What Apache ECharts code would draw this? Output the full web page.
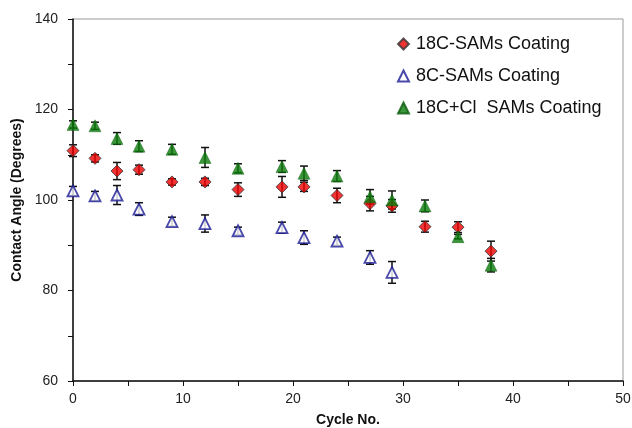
<!DOCTYPE html>
<html>
<head>
<meta charset="utf-8">
<script src="https://cdn.jsdelivr.net/npm/echarts@6/dist/echarts.min.js"></script>
<style>
  html, body { margin: 0; padding: 0; background: #fff; }
  #chart { width: 632px; height: 428px; }
</style>
</head>
<body>
<div id="chart"></div>
<script>
// cycles measured
var cycles18 = [0, 2, 4, 6, 9, 12, 15, 19, 21, 24, 27, 29, 32, 35, 38];
var cycles8 = [0, 2, 4, 6, 9, 12, 15, 19, 21, 24, 27, 29];

// contact angle (degrees) and error
var sam18 = [110.9, 109.2, 106.4, 106.7, 104.0, 104.0, 102.3, 102.9, 102.9, 101.0, 99.2, 98.7, 94.1, 94.0, 88.7];
var sam18Err = [1.3, 0.8, 1.9, 1.0, 0.7, 0.8, 1.5, 2.3, 1.0, 1.6, 1.6, 1.4, 1.2, 1.2, 2.2];
var sam8 = [102.0, 100.9, 101.1, 98.0, 95.2, 94.8, 93.2, 93.9, 91.7, 90.9, 87.3, 84.0];
var sam8Err = [1.0, 1.0, 2.1, 1.4, 1.0, 1.9, 0.8, 1.2, 1.5, 0.9, 1.5, 2.4];
var sam18Cl = [116.7, 116.4, 113.6, 111.9, 111.2, 109.4, 107.0, 107.4, 105.9, 105.3, 100.7, 100.0, 98.7, 91.9, 85.6];
var sam18ClErr = [0.8, 0.8, 1.3, 1.2, 1.1, 2.2, 1.0, 1.3, 1.6, 1.2, 1.6, 2.0, 1.3, 0.5, 1.5];

var names = ['18C-SAMs Coating', '8C-SAMs Coating', '18C+Cl  SAMs Coating'];

function pts(xs, ys) {
    var out = [];
    for (var i = 0; i < xs.length; i++) out.push([xs[i], ys[i]]);
    return out;
}

function errs(xs, ys, es) {
    var out = [];
    for (var i = 0; i < xs.length; i++) out.push([xs[i], ys[i] - es[i], ys[i] + es[i]]);
    return out;
}

function renderErr(params, api) {
    var lo = api.coord([api.value(0), api.value(1)]);
    var hi = api.coord([api.value(0), api.value(2)]);
    var w = 4;
    var st = { stroke: '#111', lineWidth: 1.5 };
    return {
        type: 'group',
        children: [
            { type: 'line', shape: { x1: lo[0], y1: lo[1], x2: hi[0], y2: hi[1] }, style: st },
            { type: 'line', shape: { x1: lo[0] - w, y1: lo[1], x2: lo[0] + w, y2: lo[1] }, style: st },
            { type: 'line', shape: { x1: hi[0] - w, y1: hi[1], x2: hi[0] + w, y2: hi[1] }, style: st }
        ]
    };
}

var font = '"Liberation Sans", Arial, sans-serif';
var myChart = echarts.init(document.getElementById('chart'));

var option = {
    animation: false,
    textStyle: { fontFamily: font },
    grid: {
        left: 73, right: 9, top: 19, bottom: 47,
        outerBoundsMode: 'none',
        show: true, borderColor: '#999', borderWidth: 1
    },
    legend: {
        orient: 'vertical',
        left: 397, top: 35, padding: 0,
        itemGap: 14,
        itemWidth: 11, itemHeight: 11,
        data: names,
        textStyle: { fontSize: 18, color: '#111', fontFamily: font, padding: [0, 0, 0, 2] }
    },
    xAxis: {
        type: 'value', min: 0, max: 50, interval: 5,
        name: 'Cycle No.', nameLocation: 'middle', nameGap: 32,
        nameTextStyle: { fontSize: 14, fontWeight: 'bold', color: '#111' },
        axisLine: { lineStyle: { color: '#111', width: 1.5 } },
        axisTick: { inside: false, length: 5, lineStyle: { color: '#111' } },
        axisLabel: {
            fontSize: 14, color: '#222', margin: 11,
            formatter: function (v) { return v % 10 === 0 ? v : ''; }
        },
        splitLine: { show: false }
    },
    yAxis: {
        type: 'value', min: 60, max: 140, interval: 10,
        name: 'Contact Angle (Degrees)', nameLocation: 'middle', nameGap: 47,
        nameTextStyle: { fontSize: 14, fontWeight: 'bold', color: '#111' },
        axisLine: { show: true, lineStyle: { color: '#111', width: 1.5 } },
        axisTick: { show: true, inside: false, length: 5, lineStyle: { color: '#111' } },
        axisLabel: {
            fontSize: 14, color: '#222', margin: 15,
            formatter: function (v) { return v % 20 === 0 ? v : ''; }
        },
        splitLine: { show: false }
    },
    series: [
        { type: 'custom', renderItem: renderErr, data: errs(cycles18, sam18, sam18Err), z: 2, silent: true },
        { type: 'custom', renderItem: renderErr, data: errs(cycles8, sam8, sam8Err), z: 2, silent: true },
        { type: 'custom', renderItem: renderErr, data: errs(cycles18, sam18Cl, sam18ClErr), z: 2, silent: true },
        {
            name: names[0], type: 'scatter', z: 3,
            symbol: 'diamond', symbolSize: 12,
            itemStyle: { color: '#ee0000', borderColor: '#333', borderWidth: 1 },
            data: pts(cycles18, sam18)
        },
        {
            name: names[1], type: 'scatter', z: 3,
            symbol: 'triangle', symbolSize: 11,
            itemStyle: { color: '#fff', borderColor: '#1a1a96', borderWidth: 1.8 },
            data: pts(cycles8, sam8)
        },
        {
            name: names[2], type: 'scatter', z: 4,
            symbol: 'triangle', symbolSize: 12,
            itemStyle: { color: '#0a7a0a', borderColor: '#0a5a0a', borderWidth: 0.5 },
            data: pts(cycles18, sam18Cl)
        }
    ]
};

myChart.setOption(option);
</script>
</body>
</html>
